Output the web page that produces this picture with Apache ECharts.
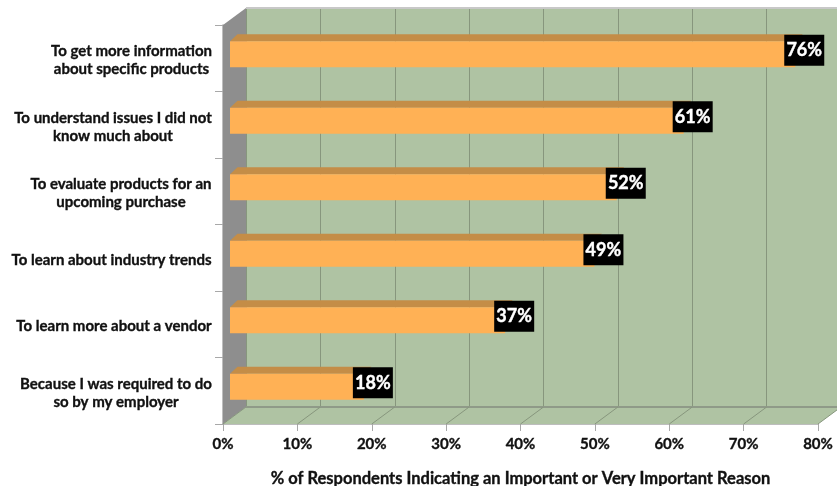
<!DOCTYPE html>
<html><head><meta charset="utf-8">
<style>html,body{margin:0;padding:0;background:#fff}#c{width:837px;height:486px}</style>
<script src="https://cdn.jsdelivr.net/npm/echarts@6/dist/echarts.min.js"></script>
</head><body><div id="c"></div>
<script>
const categories = [
  ['To get more information','about specific products'],
  ['To understand issues I did not','know much about'],
  ['To evaluate products for an','upcoming purchase'],
  ['To learn about industry trends'],
  ['To learn more about a vendor'],
  ['Because I was required to do','so by my employer']
];
const values = [76, 61, 52, 49, 37, 18];
const xTicks = [0, 10, 20, 30, 40, 50, 60, 70, 80];
const xTitle = '% of Respondents Indicating an Important or Very Important Reason';

const FONT = 'Lato, "Open Sans", sans-serif';
const DX = 23, DY = -17;
const GREEN = '#AFC3A3', GRID = '#87967D', WALL = '#8E8E8E', FRONT = '#FFB155', TOP = '#C48D47';
const INK = {color: '#111', textBorderColor: '#111', textBorderWidth: 0.35};

const ctx = document.createElement('canvas').getContext('2d');
ctx.font = 'bold 15px Lato';
const blockW = categories.map(c => Math.ceil(Math.max(...c.map(l => ctx.measureText(l).width))));
const rich = {};
blockW.forEach((w, i) => { rich['b' + i] = Object.assign({width: w, align: 'center', fontFamily: FONT, fontWeight: 'bold', fontSize: 15, lineHeight: 18}, INK); });
const catNames = categories.map(c => c.join(' '));

const chart = echarts.init(document.getElementById('c'));
chart.setOption({
  animation: false,
  backgroundColor: '#fff',
  grid: [
    {left: 223, top: 25, width: 595, height: 399, containLabel: false, outerBoundsMode: 'none'},
    {left: 246, top: 8, width: 595, height: 399, show: true, backgroundColor: GREEN, borderWidth: 0, z: 0, outerBoundsMode: 'none'}
  ],
  xAxis: [
    {type: 'value', min: 0, max: 80, interval: 10, gridIndex: 0,
     axisLine: {show: true, onZero: false, lineStyle: {color: '#A8A8A8', width: 1.5}},
     axisTick: {show: true, length: 7, lineStyle: {color: '#A8A8A8'}},
     splitLine: {show: false},
     axisLabel: Object.assign({margin: 13, formatter: v => v + '%', fontFamily: FONT, fontWeight: 'bold', fontSize: 15, customValues: xTicks}, INK),
     name: xTitle, nameLocation: 'middle', nameGap: 46,
     nameTextStyle: Object.assign({fontFamily: FONT, fontWeight: 'bold', fontSize: 16.5}, INK)},
    {type: 'value', min: 0, max: 80, interval: 10, gridIndex: 1,
     axisLine: {show: false}, axisTick: {show: false}, axisLabel: {show: false},
     splitLine: {show: true, lineStyle: {color: GRID, width: 1}}}
  ],
  yAxis: [
    {type: 'category', inverse: true, data: catNames, gridIndex: 0,
     axisLine: {show: true, lineStyle: {color: '#A8A8A8', width: 1.5}},
     axisTick: {show: true, length: 8, alignWithLabel: false, lineStyle: {color: '#A8A8A8'}},
     axisLabel: {margin: 11, interval: 0, rich, padding: [4, 0, 0, 0],
       formatter: (v, i) => categories[i].map(l => '{b' + i + '|' + l + '}').join('\n')}},
    {type: 'category', inverse: true, data: catNames, gridIndex: 1,
     axisLine: {show: false}, axisTick: {show: false}, axisLabel: {show: false}, splitLine: {show: false}}
  ],
  series: [
    { // side wall, floor and wall edges
      type: 'custom', xAxisIndex: 0, yAxisIndex: 0, z: 1, silent: true,
      data: [0],
      renderItem(p, api) {
        const g = p.coordSys, L = g.x, T = g.y, B = g.y + g.height, R = g.x + g.width;
        return {type: 'group', children: [
          {type: 'polygon', shape: {points: [[L, B], [L + DX, B + DY], [R + DX, B + DY], [R, B]]}, style: {fill: GREEN}},
          {type: 'polygon', shape: {points: [[L, T], [L + DX, T + DY], [L + DX, B + DY], [L, B]]}, style: {fill: WALL}},
          {type: 'line', shape: {x1: L + DX, y1: B + DY, x2: R + DX, y2: B + DY}, style: {stroke: '#8F9A88', lineWidth: 2}},
          {type: 'line', shape: {x1: L + DX, y1: T + DY, x2: R + DX, y2: T + DY}, style: {stroke: '#C8C8C8', lineWidth: 2}}
        ]};
      }
    },
    { // floor grid lines
      type: 'custom', xAxisIndex: 0, yAxisIndex: 0, z: 2, silent: true,
      data: xTicks.map(t => [t]),
      renderItem(p, api) {
        const g = p.coordSys, x = api.coord([api.value(0), 0])[0], B = g.y + g.height;
        return {type: 'line', shape: {x1: x, y1: B, x2: x + DX, y2: B + DY}, style: {stroke: GRID, lineWidth: 1}};
      }
    },
    { // 3D bars
      type: 'custom', xAxisIndex: 0, yAxisIndex: 0, z: 3, silent: true,
      encode: {x: 0, y: 1},
      data: values.map((v, i) => [v, i]),
      renderItem(p, api) {
        const v = api.value(0), i = api.value(1);
        const [x0] = api.coord([0, i]);
        const [xv, cy] = api.coord([v, i]);
        const sx = 7, L = x0 + sx, R = xv + sx;
        const top = cy - 17, bot = cy + 9, d = 7.5;
        const boxW = 40, boxH = 31, bcx = R + 9, bcy = cy - 8;
        return {type: 'group', children: [
          {type: 'polygon', shape: {points: [[L, top], [L + d, top - 7], [R + d, top - 7], [R, top]]}, style: {fill: TOP}},
          {type: 'rect', shape: {x: L, y: top, width: R - L, height: bot - top}, style: {fill: FRONT}},
          {type: 'rect', shape: {x: bcx - boxW / 2, y: bcy - boxH / 2, width: boxW, height: boxH}, style: {fill: '#000'}},
          {type: 'text', x: bcx, y: bcy, style: {text: v + '%', fill: '#fff', stroke: '#fff', lineWidth: 0.4, align: 'center', verticalAlign: 'middle',
            fontFamily: FONT, fontWeight: 'bold', fontSize: 18}}
        ]};
      }
    }
  ]
});
</script></body></html>
